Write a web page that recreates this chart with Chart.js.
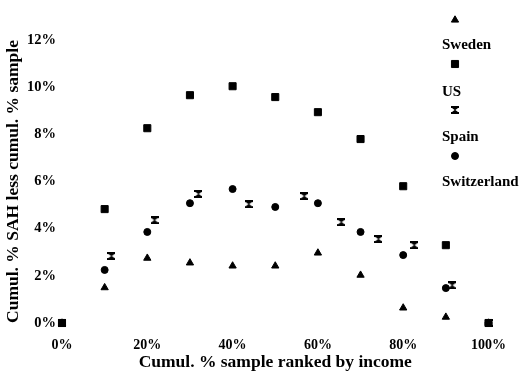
<!DOCTYPE html>
<html><head><meta charset="utf-8">
<script src="https://cdn.jsdelivr.net/npm/chart.js@4/dist/chart.umd.min.js"></script>
<style>html,body{margin:0;padding:0;background:#fff}#w{width:520px;height:373px}</style>
</head><body><div id="w"><canvas id="c"></canvas></div>
<script>
const deciles = [0,10,20,30,40,50,60,70,80,90,100];
const swedenValues = [0,1.5,2.75,2.55,2.42,2.42,2.97,2.03,0.64,0.25,0];
const usValues = [0,4.83,8.26,9.66,10.04,9.58,8.94,7.8,5.8,3.3,0];
const spainX = [0,11.6,21.7,32,43.8,56.8,65.5,74.2,82.6,91.5,100];
const spainValues = [0,2.84,4.36,5.47,5.04,5.38,4.28,3.56,3.3,1.6,0];
const switzerlandValues = [0,2.25,3.86,5.08,5.68,4.92,5.08,3.86,2.88,1.48,0];
const seriesNames = ['Sweden','US','Spain','Switzerland'];
const xTicks = [0,20,40,60,80,100];
const yTicks = [0,2,4,6,8,10,12];

const pts = (xs, ys) => xs.map((x,i)=>({x, y: ys[i]}));
const F = '"Liberation Serif", "DejaVu Serif", serif';

// hourglass marker for Spain
const hg = document.createElement('canvas');
hg.width = 8; hg.height = 8;
(function(){
  const c = hg.getContext('2d');
  c.fillStyle = '#000';
  c.fillRect(0,0,8,2);
  c.fillRect(0,6,8,2);
  c.beginPath(); c.moveTo(1,2); c.lineTo(7,2); c.lineTo(4,4.3); c.closePath(); c.fill();
  c.beginPath(); c.moveTo(1,6); c.lineTo(7,6); c.lineTo(4,3.7); c.closePath(); c.fill();
})();

const styles = [
  {pointStyle:'triangle', pointRadius:4.2, borderWidth:1},
  {pointStyle:'rect', pointRadius:5, borderWidth:1},
  {pointStyle:hg, pointRadius:4, borderWidth:0},
  {pointStyle:'circle', pointRadius:3.5, borderWidth:1}
];
const dataSets = [pts(deciles, swedenValues), pts(deciles, usValues), pts(spainX, spainValues), pts(deciles, switzerlandValues)];

const legendPlugin = {
  id:'customLegend',
  afterDraw(chart){
    const ctx = chart.ctx;
    const markerY = [20,64,110,156];
    const textY = [45,92,137,182];
    seriesNames.forEach((n,i)=>{
      const s = styles[i];
      ctx.save();
      ctx.fillStyle='#000'; ctx.strokeStyle='#000'; ctx.lineWidth = s.borderWidth;
      Chart.helpers.drawPoint(ctx, {pointStyle:s.pointStyle, radius:s.pointRadius, borderWidth:s.borderWidth, rotation:0}, 455, markerY[i]);
      ctx.restore();
      ctx.save();
      ctx.fillStyle='#000';
      ctx.font = 'bold 15px ' + F;
      ctx.textAlign='left'; ctx.textBaseline='middle';
      ctx.fillText(n, 442, textY[i]);
      ctx.restore();
    });
  }
};

new Chart(document.getElementById('c'), {
  type:'scatter',
  data:{datasets: dataSets.map((d,i)=>({
    label: seriesNames[i], data: d, showLine:false,
    pointStyle: styles[i].pointStyle, pointRadius: styles[i].pointRadius,
    borderWidth: styles[i].borderWidth,
    backgroundColor:'#000', borderColor:'#000'
  }))},
  options:{
    responsive:true, maintainAspectRatio:false, animation:false,
    layout:{padding:{top:40,right:20,left:0,bottom:0}},
    plugins:{legend:{display:false}, tooltip:{enabled:false}},
    clip:false,
    scales:{
      x:{type:'linear', min:0, max:100,
        afterBuildTicks(s){ s.ticks = xTicks.map(v=>({value:v})); },
        afterFit(s){ s.height = 50; },
        grid:{display:false, drawTicks:false}, border:{display:false},
        ticks:{color:'#000', font:{family:F, weight:'bold', size:14}, padding:14, callback:v=>v+'%', maxRotation:0},
        title:{display:true, text:'Cumul. % sample ranked by income', color:'#000', font:{family:F, weight:'bold', size:17.5}, padding:{top:0,bottom:0}}
      },
      y:{type:'linear', min:0, max:12,
        afterBuildTicks(s){ s.ticks = yTicks.map(v=>({value:v})); },
        afterFit(s){ s.width = 62; },
        grid:{display:false, drawTicks:false}, border:{display:false},
        ticks:{color:'#000', font:{family:F, weight:'bold', size:14.5}, padding:6, callback:v=>v+'%'},
        title:{display:true, text:'Cumul. % SAH less cumul. % sample', color:'#000', font:{family:F, weight:'bold', size:17.5}, padding:{top:3,bottom:0}}
      }
    }
  },
  plugins:[legendPlugin]
});
</script></body></html>
